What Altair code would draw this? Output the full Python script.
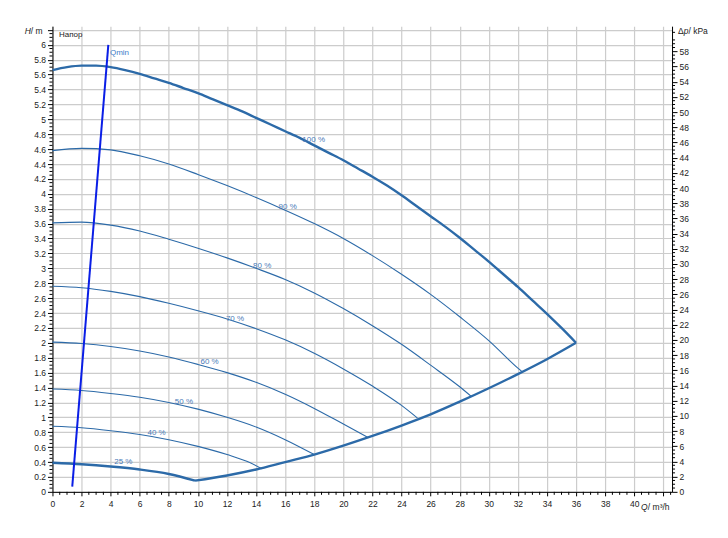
import altair as alt
import pandas as pd

# ---------------- data ----------------
Q_100 = [0, 1, 2, 3, 4, 5, 6, 7, 8, 9, 10, 11, 12, 13, 14, 15, 16, 17, 18, 19, 20,
         21, 22, 23, 24, 25, 26, 27, 28, 29, 30, 31, 32, 33, 34, 35, 36]
H_100 = [5.66, 5.70, 5.72, 5.72, 5.70, 5.66, 5.61, 5.55, 5.49, 5.42, 5.35, 5.27, 5.19,
         5.11, 5.02, 4.93, 4.84, 4.75, 4.65, 4.55, 4.45, 4.34, 4.23, 4.11, 3.98, 3.84,
         3.70, 3.56, 3.41, 3.25, 3.09, 2.92, 2.75, 2.57, 2.39, 2.20, 2.00]
Q_90 = [0, 2, 4, 6, 8, 10, 12, 14, 16, 18, 20, 22, 24, 26, 28, 30, 32, 32.3]
H_90 = [4.58, 4.61, 4.59, 4.51, 4.40, 4.26, 4.11, 3.95, 3.78, 3.60, 3.40, 3.17, 2.92,
        2.65, 2.35, 2.03, 1.66, 1.61]
Q_80 = [0, 2, 4, 6, 8, 10, 12, 14, 16, 18, 20, 22, 24, 26, 28, 28.8]
H_80 = [3.61, 3.62, 3.58, 3.50, 3.39, 3.27, 3.14, 3.00, 2.85, 2.67, 2.46, 2.23, 1.98,
        1.70, 1.41, 1.28]
Q_70 = [0, 2, 4, 6, 8, 10, 12, 14, 16, 18, 20, 22, 24, 25.1]
H_70 = [2.76, 2.74, 2.69, 2.62, 2.53, 2.43, 2.32, 2.19, 2.04, 1.86, 1.65, 1.42, 1.16, 0.99]
Q_60 = [0, 2, 4, 6, 8, 10, 12, 14, 16, 18, 20, 21.7]
H_60 = [2.01, 1.99, 1.95, 1.89, 1.81, 1.71, 1.60, 1.47, 1.31, 1.12, 0.91, 0.73]
Q_50 = [0, 2, 4, 6, 8, 10, 12, 14, 16, 18]
H_50 = [1.38, 1.36, 1.32, 1.27, 1.20, 1.11, 1.00, 0.87, 0.70, 0.50]
Q_40 = [0, 2, 4, 6, 8, 10, 12, 13.6, 14.4]
H_40 = [0.88, 0.86, 0.82, 0.77, 0.70, 0.61, 0.50, 0.39, 0.31]
Q_25 = [0, 2, 4, 6, 8, 9.8]
H_25 = [0.39, 0.37, 0.34, 0.30, 0.24, 0.15]
Q_SYS = [9.8, 12, 14, 16, 18, 20, 22, 24, 26, 28, 30, 32, 34, 36]
H_SYS = [0.15, 0.22, 0.30, 0.40, 0.50, 0.62, 0.75, 0.89, 1.04, 1.21, 1.39, 1.58, 1.78, 2.00]

Q_QMIN = [1.36, 3.84]
H_QMIN = [0.07, 6.00]

LABEL_TEXT = ["100 %", "90 %", "80 %", "70 %", "60 %", "50 %", "40 %", "25 %"]
LABEL_Q = [17.96, 16.17, 14.42, 12.55, 10.80, 9.04, 7.16, 4.87]
LABEL_H = [4.72, 3.82, 3.03, 2.32, 1.74, 1.21, 0.79, 0.40]

X_TICKS = list(range(0, 43, 2))
Y_TICKS = [round(i * 0.2, 1) for i in range(32)]
KPA_TICKS = list(range(0, 60, 2))
X_MINOR = [i * 0.5 for i in range(86) if i % 4 != 0]
Y_MINOR = [round(i * 0.05, 2) for i in range(125) if i % 4 != 0]
KPA_MINOR = [i * 0.5 for i in range(122) if i % 4 != 0]

X_MAX = 42.6
Y_MAX = 6.25
KPA_MAX = 61.3125
W, H = 620, 466

CURVE = "#2c6aa8"
LABEL_COL = "#4a7ab8"
TXT = "#222"
FONT = "Liberation Sans"
FS = 8.5

series = [
    ("100", Q_100, H_100, 2.4), ("90", Q_90, H_90, 1.1), ("80", Q_80, H_80, 1.1),
    ("70", Q_70, H_70, 1.1), ("60", Q_60, H_60, 1.1), ("50", Q_50, H_50, 1.1),
    ("40", Q_40, H_40, 1.1), ("25", Q_25, H_25, 2.4), ("sys", Q_SYS, H_SYS, 2.4),
]
rows = []
for name, qs, hs, w in series:
    for q, h in zip(qs, hs):
        rows.append({"curve": name, "Q": q, "H": h, "w": w})
curves_df = pd.DataFrame(rows)

xscale = alt.Scale(domain=[0, X_MAX], nice=False, zero=False)
yscale = alt.Scale(domain=[0, Y_MAX], nice=False, zero=False)

x_axis = alt.Axis(
    values=X_TICKS, tickCount=500, labelOverlap=False, format="d",
    labelExpr="datum.value >= 42 ? '' : datum.label", title="",
    grid=True, gridColor="#cccccc", gridWidth=1.2,
    domainColor="#000", tickColor="#000", tickSize=4, labelFontSize=FS,
    labelColor=TXT, labelPadding=4, labelFlush=False,
)
y_axis = alt.Axis(
    values=Y_TICKS, tickCount=500, labelOverlap=False, format="~g",
    labelExpr="datum.value >= 6.19 ? '' : datum.label", title="",
    grid=True, gridColor="#cccccc", gridWidth=1.2,
    domainColor="#000", tickColor="#000", tickSize=5, labelFontSize=FS,
    labelColor=TXT, labelPadding=2, labelFlush=False,
)

# layer that owns the left / bottom axes and grid
curves = alt.Chart(curves_df).mark_line(color=CURVE, interpolate="monotone").encode(
    x=alt.X("Q:Q", scale=xscale, axis=x_axis),
    y=alt.Y("H:Q", scale=yscale, axis=y_axis),
    detail="curve:N",
    strokeWidth=alt.StrokeWidth("w:Q", scale=None),
)

qmin = alt.Chart(pd.DataFrame({"Q": Q_QMIN, "H": H_QMIN})).mark_line(
    color="#0a1ee6", strokeWidth=2
).encode(
    x=alt.X("Q:Q", scale=xscale),
    y=alt.Y("H:Q", scale=yscale),
)

labels = alt.Chart(pd.DataFrame({"Q": LABEL_Q, "H": LABEL_H, "t": LABEL_TEXT})).mark_text(
    fontSize=8, color=LABEL_COL, align="center", baseline="middle"
).encode(
    x=alt.X("Q:Q", scale=xscale),
    y=alt.Y("H:Q", scale=yscale),
    text="t:N",
)

qmin_label = alt.Chart(pd.DataFrame({"Q": [3.95], "H": [5.89], "t": ["Qmin"]})).mark_text(
    fontSize=8, color="#3d7cc9", align="left", baseline="middle"
).encode(
    x=alt.X("Q:Q", scale=xscale),
    y=alt.Y("H:Q", scale=yscale),
    text="t:N",
)

title_label = alt.Chart(pd.DataFrame({"Q": [0.45], "H": [6.13], "t": ["Напор"]})).mark_text(
    fontSize=8, color=TXT, align="left", baseline="middle"
).encode(
    x=alt.X("Q:Q", scale=xscale),
    y=alt.Y("H:Q", scale=yscale),
    text="t:N",
)

y_minor = alt.Chart(pd.DataFrame({"H": Y_MINOR})).mark_rule(color="#000", strokeWidth=1).encode(
    y=alt.Y("H:Q", scale=yscale),
    x=alt.value(-3), x2=alt.value(0),
)
x_minor = alt.Chart(pd.DataFrame({"Q": X_MINOR})).mark_rule(color="#000", strokeWidth=1).encode(
    x=alt.X("Q:Q", scale=xscale),
    y=alt.value(H), y2=alt.value(H + 3),
)


# axis titles with italic symbols (H, Q, p)
def title_part(text, px, py, align, italic=False):
    return alt.Chart(pd.DataFrame({"t": [text]})).mark_text(
        fontSize=FS, color=TXT, align=align, baseline="middle",
        fontStyle="italic" if italic else "normal",
    ).encode(x=alt.value(px), y=alt.value(py), text="t:N")


titles = [
    title_part("/ m", -10, 5, "right"),
    title_part("H", -21.5, 5, "right", True),
    title_part("Q", 589, 15 + H, "left", True),
    title_part("/ m³/h", 595.8, 15 + H, "left"),
    title_part("Δ", W + 6, 5, "left"),
    title_part("p", W + 11.7, 5, "left", True),
    title_part("/ kPa", W + 16.4, 5, "left"),
]

inner = alt.layer(curves, qmin, labels, qmin_label, title_label, y_minor, x_minor, *titles)

right = alt.Chart(pd.DataFrame({"kpa": KPA_MINOR})).mark_rule(color="#000", strokeWidth=1).encode(
    y=alt.Y("kpa:Q", scale=alt.Scale(domain=[0, KPA_MAX], nice=False, zero=False),
            axis=alt.Axis(
                orient="right", values=KPA_TICKS, tickCount=500, labelOverlap=False,
                format="d", title="",
                grid=False, domainColor="#000", tickColor="#000", tickSize=5,
                labelFontSize=FS, labelColor=TXT, labelPadding=2, labelFlush=False,
            )),
    x=alt.value(W), x2=alt.value(W + 3),
)

chart = alt.layer(inner, right).resolve_scale(y="independent").properties(
    width=W, height=H,
    autosize=alt.AutoSizeParams(type="none"),
    padding={"left": 44.5, "top": 18, "right": 48, "bottom": 30},
).configure(font=FONT).configure_view(stroke=None)

chart.save("out.html", embed_options={"renderer": "svg", "actions": False})
